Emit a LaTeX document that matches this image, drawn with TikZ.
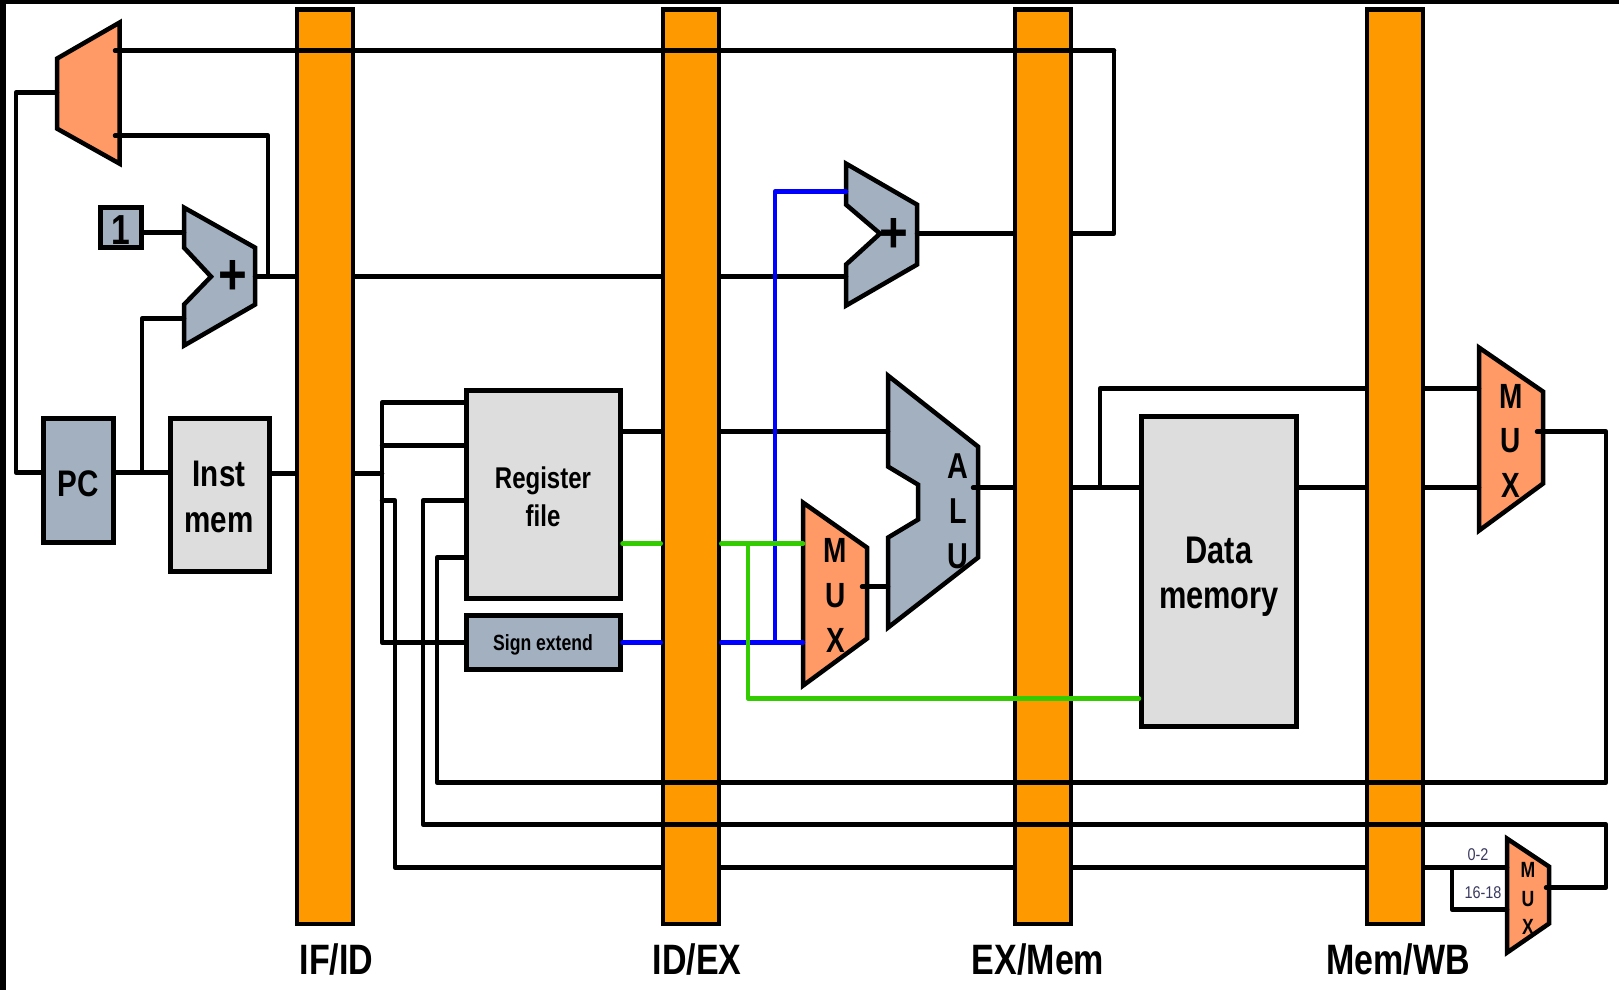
\documentclass[tikz,border=0pt]{standalone}
\usepackage{fontspec}
\newfontfamily\lblfont[FakeStretch=0.8]{Liberation Sans}
\newfontfamily\regfont[FakeStretch=0.85]{Liberation Sans}
\definecolor{latchc}{HTML}{FF9900}
\definecolor{muxc}{HTML}{FF9966}
\definecolor{alugray}{HTML}{A2B0C0}
\definecolor{boxgray}{HTML}{DDDDDD}
\definecolor{wgreen}{HTML}{33CC00}
\definecolor{wblue}{HTML}{0000FF}
\definecolor{smalltxt}{HTML}{3A3A60}
\tikzset{
  latch/.style={draw=black,fill=latchc,line width=4.5pt,minimum width=56pt,minimum height=914.5pt,inner sep=0pt},
  unitbox/.style={draw=black,line width=5pt,inner sep=0pt,align=center,text=black},
  polyshape/.style={draw=black,line width=4.5pt,line join=miter,miter limit=10},
  wire/.style={draw=black,line width=4.5pt,line join=round,line cap=round},
  gwire/.style={draw=wgreen,line width=4.5pt,line join=round,line cap=round},
  bwire/.style={draw=wblue,line width=4.5pt,line join=round,line cap=round},
  caption/.style={font=\fontsize{42.5}{46}\selectfont\lblfont\bfseries,inner sep=0pt},
  stack/.style={align=center,inner sep=0pt,text=black},
  plus/.style={font=\fontsize{58}{58}\selectfont\regfont\bfseries,inner sep=0pt,text=black},
  bits/.style={font=\fontsize{17}{20}\selectfont\regfont,inner sep=0pt,text=smalltxt}
}
\begin{document}
\begin{tikzpicture}[x=1pt,y=-1pt]
\useasboundingbox (0,0) rectangle (1619,990);
\fill[white] (0,0) rectangle (1619,990);
\fill[black] (0,0) rectangle (1619,4);
\fill[black] (0,0) rectangle (6,990);
\begin{scope}[yshift=-0.6pt]
% ---- shapes ----
\draw[polyshape,fill=muxc] (57,58) -- (119.5,22) -- (119.5,163) -- (57,128) -- cycle;
\draw[polyshape,fill=alugray] (184,207) -- (255,247) -- (255,304) -- (184,345) -- (184,304) -- (211,276) -- (184,247) -- cycle;
\draw[polyshape,fill=alugray] (846,163) -- (917,204) -- (917,264) -- (846,305) -- (846,264) -- (880,233) -- (846,204) -- cycle;
\draw[polyshape,fill=alugray] (888,375) -- (978,446) -- (978,557) -- (888,627) -- (888,537) -- (918,519) -- (918,484) -- (888,466) -- cycle;
\draw[polyshape,fill=muxc] (803,502) -- (867,547) -- (867,638) -- (803,685) -- cycle;
\draw[polyshape,fill=muxc] (1479,347) -- (1543,391) -- (1543,483) -- (1479,530) -- cycle;
\draw[polyshape,fill=muxc] (1507,838) -- (1549,866) -- (1549,923) -- (1507,952) -- cycle;

\node[unitbox,fill=alugray,minimum width=41pt,minimum height=40pt] (one) at (121,227) {};
\node[inner sep=0pt,font=\fontsize{42}{46}\selectfont\lblfont\bfseries] (onetext) at (121,229.5) {1};
\node[unitbox,fill=alugray,minimum width=70pt,minimum height=124pt] (pc) at (78.5,480) {};
\node[inner sep=0pt,font=\fontsize{37}{46}\selectfont\lblfont\bfseries] (pctext) at (78,483) {PC};
\node[unitbox,fill=boxgray,minimum width=99pt,minimum height=153pt] (inst) at (219.5,494) {};
\node[inner sep=0pt,align=center,font=\fontsize{37}{46}\selectfont\lblfont\bfseries] (insttext) at (219,496) {Inst\\mem};
\node[unitbox,fill=boxgray,minimum width=154pt,minimum height=208pt] (rf) at (543,493.5) {};
\node[inner sep=0pt,align=center,font=\fontsize{30}{38}\selectfont\lblfont\bfseries] (rftext) at (543,496.5) {Register\\file};
\node[unitbox,fill=alugray,minimum width=154pt,minimum height=54pt] (se) at (543,642) {};
\node[inner sep=0pt,font=\fontsize{22}{26}\selectfont\lblfont\bfseries] (setext) at (543,644) {Sign extend};
\node[unitbox,fill=boxgray,minimum width=155pt,minimum height=310pt] (dm) at (1219,571) {};
\node[inner sep=0pt,align=center,font=\fontsize{38.5}{45}\selectfont\lblfont\bfseries] (dmtext) at (1219,576) {Data\\memory};

\node[plus] (plusa) at (233,277) {+};
\node[plus] (plusb) at (894,235) {+};
\node[stack,font=\fontsize{36}{45}\selectfont\lblfont\bfseries] (alutext) at (958,511) {A\\L\\U};
\node[stack,font=\fontsize{35}{45}\selectfont\lblfont\bfseries] (muxa) at (835.5,594.5) {M\\U\\X};
\node[stack,font=\fontsize{35}{44.5}\selectfont\lblfont\bfseries] (muxb) at (1511,440) {M\\U\\X};
\node[stack,font=\fontsize{22}{28.5}\selectfont\lblfont\bfseries] (muxc) at (1528,898) {M\\U\\X};
\node[bits] (bitsa) at (1478,854) {0-2};
\node[bits] (bitsb) at (1483,892) {16-18};

% ---- ports ----
\coordinate (pcmuxtop) at (115,50);
\coordinate (pcmuxlow) at (115,135);
\coordinate (pcmuxout) at (57,92);
\coordinate (addaout) at (255,276);
\coordinate (addain) at (184,232);
\coordinate (addainb) at (184,318);
\coordinate (addbin) at (846,276);
\coordinate (addbinb) at (846,191);
\coordinate (addbout) at (917,233);
\coordinate (aluina) at (888,431);
\coordinate (aluinb) at (888,586);
\coordinate (aluout) at (973,487);
\coordinate (muxaout) at (862,586);
\coordinate (muxaina) at (803,543);
\coordinate (muxainb) at (803,642);
\coordinate (muxbina) at (1479,388);
\coordinate (muxbinb) at (1479,487);
\coordinate (muxbout) at (1537,431);
\coordinate (muxcina) at (1507,867);
\coordinate (muxcinb) at (1507,909);
\coordinate (muxcout) at (1546,887);

% ---- connectors behind the pipeline latches ----
\draw[wire] (pcmuxout) -- (16,92) -- (16,472) -- (pc.west |- 0,472);
\draw[wire] (pc.east |- 0,472) -- (inst.west |- 0,472);
\draw[wire] (142,472) -- (142,318) -- (addainb);
\draw[wire] (one.east |- addain) -- (addain);
\draw[wire] (pcmuxlow) -- (268,135) -- (268,276);
\draw[wire] (addaout) -- (addbin);
\draw[wire] (inst.east |- 0,473) -- (382,473);
\draw[wire] (rf.west |- 0,402) -- (382,402) -- (382,642) -- (se.west);
\draw[wire] (382,445) -- (rf.west |- 0,445);
\draw[wire] (382,500) -- (395,500) -- (395,867) -- (muxcina);
\draw[wire] (1452,867) -- (1452,909) -- (muxcinb);
\draw[wire] (rf.east |- aluina) -- (aluina);
\draw[wire] (muxaout) -- (aluinb);
\draw[wire] (addbout) -- (1114,233) -- (1114,50);
\draw[wire] (aluout) -- (dm.west |- aluout);
\draw[wire] (1100,487) -- (1100,388) -- (muxbina);
\draw[wire] (dm.east |- muxbinb) -- (muxbinb);

% ---- pipeline latches ----
\node[latch] (ifid) at (325,466) {};
\node[latch] (idex) at (691,466) {};
\node[latch] (exmem) at (1043,466) {};
\node[latch] (memwb) at (1395,466) {};

% ---- connectors over the latches ----
\draw[wire] (1114,50) -- (pcmuxtop);
\draw[wire] (rf.west |- 0,500) -- (423,500) -- (423,824) -- (1606,824) -- (1606,887) -- (muxcout);
\draw[wire] (rf.west |- 0,557) -- (437,557) -- (437,782) -- (1606,782) -- (1606,431) -- (muxbout);

% ---- coloured wires ----
\draw[bwire] (se.east) -- (idex.west |- se.east);
\draw[bwire] (idex.east |- muxainb) -- (muxainb);
\draw[bwire] (775,642) -- (775,191) -- (addbinb);
\draw[gwire] (rf.east |- muxaina) -- (idex.west |- muxaina);
\draw[gwire] (idex.east |- muxaina) -- (muxaina);
\draw[gwire] (748,543) -- (748,698) -- (dm.west |- 0,698);

% ---- captions ----
\node[caption] (capa) at (336.5,959) {IF/ID};
\node[caption] (capb) at (697,959) {ID/EX};
\node[caption] (capc) at (1038,959) {EX/Mem};
\node[caption] (capd) at (1398,959) {Mem/WB};
\end{scope}
\end{tikzpicture}
\end{document}
